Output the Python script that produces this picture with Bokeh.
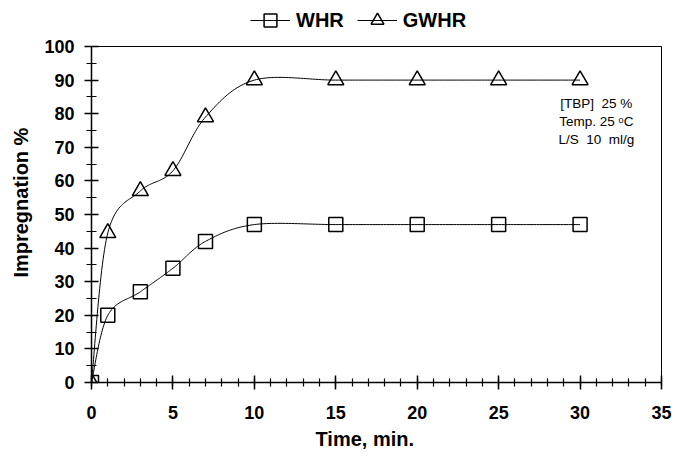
import numpy as np
from bokeh.plotting import figure
from bokeh.models import (Range1d, SingleIntervalTicker, Legend, LegendItem, Label, Title)
from bokeh.embed import file_html
from bokeh.resources import INLINE

# ---- data ----
time_min = [0, 1, 3, 5, 7, 10, 15, 20, 25, 30]
whr = [0, 20, 27, 34, 42, 47, 47, 47, 47, 47]
gwhr = [0, 44.5, 57, 63, 79, 90, 90, 90, 90, 90]
x_limits = [0, 35]
y_limits = [0, 100]
NB = "\u00a0"
notes = ["[TBP]" + NB + " 25 %", "Temp. 25 \u1d52C", "L/S" + NB + " 10" + NB + " ml/g"]


def smooth(xs, ys, n=30):
    """Excel-style smoothed line (Catmull-Rom Bezier) through the data points."""
    P = np.column_stack([xs, ys]).astype(float)
    m = len(P)
    out = [P[0]]
    t = np.linspace(0, 1, n)[1:, None]
    for i in range(m - 1):
        p0 = P[i - 1] if i > 0 else P[i]
        p1 = P[i]
        p2 = P[i + 1]
        p3 = P[i + 2] if i + 2 < m else P[i + 1]
        c1 = p1 + (p2 - p0) / 6.0
        c2 = p2 - (p3 - p1) / 6.0
        seg = ((1 - t) ** 3) * p1 + 3 * ((1 - t) ** 2) * t * c1 + 3 * (1 - t) * t ** 2 * c2 + t ** 3 * p2
        out.extend(seg)
    out = np.array(out)
    return out[:, 0], out[:, 1]


FONT = "Liberation Sans"

# axes box: x 0..35 -> 91..661 px ; y 0..100 -> 382..46 px ; extra frame room above for the legend
px_x = 570 / (x_limits[1] - x_limits[0])
px_y = 336 / (y_limits[1] - y_limits[0])
x_end = x_limits[1] + 2 / px_x
y_end = y_limits[1] + 46 / px_y

p = figure(width=675, height=458, output_backend="svg", toolbar_location=None,
           x_range=Range1d(x_limits[0], x_end), y_range=Range1d(y_limits[0], y_end),
           min_border_left=91, min_border_right=12, min_border_top=0, min_border_bottom=76)

p.xgrid.visible = False
p.ygrid.visible = False
p.outline_line_color = None
p.background_fill_color = "white"
p.border_fill_color = "white"

# axes
p.xaxis.ticker = SingleIntervalTicker(interval=5, num_minor_ticks=5)
p.yaxis.ticker = SingleIntervalTicker(interval=10, num_minor_ticks=2)
p.xaxis.bounds = tuple(x_limits)
p.yaxis.bounds = tuple(y_limits)
for ax in (p.xaxis[0], p.yaxis[0]):
    ax.axis_line_color = "black"
    ax.axis_line_width = 1.5
    ax.major_tick_line_color = "black"
    ax.major_tick_line_width = 1.5
    ax.minor_tick_line_color = "black"
    ax.minor_tick_line_width = 1.2
    ax.major_tick_in = 7
    ax.major_tick_out = 7
    ax.major_label_text_font = FONT
    ax.major_label_text_font_style = "bold"
    ax.major_label_text_font_size = "18px"
    ax.major_label_text_color = "black"
    ax.axis_label_text_font = FONT
    ax.axis_label_text_font_style = "bold"
    ax.axis_label_text_font_size = "20px"
    ax.axis_label_text_color = "black"
p.xaxis.minor_tick_in = 4
p.xaxis.minor_tick_out = 4
p.yaxis.minor_tick_in = 5
p.yaxis.minor_tick_out = 5
p.yaxis.axis_label = "Impregnation %" + NB * 4
p.xaxis.major_label_standoff = 16
p.yaxis.major_label_standoff = 10
p.yaxis.axis_label_standoff = 9

xtitle = Title(text="Time, min.", align="left", offset=224, standoff=9,
               text_font=FONT, text_font_style="bold", text_font_size="20px",
               text_color="black")
p.add_layout(xtitle, "below")

# top and right border of the plot box
p.segment(x0=[x_limits[0], x_limits[1]], y0=[y_limits[1], y_limits[0]],
          x1=[x_limits[1], x_limits[1]], y1=[y_limits[1], y_limits[1]],
          line_color="black", line_width=1)

# series
sx, sy = smooth(time_min, whr)
l1 = p.line(sx, sy, line_color="black", line_width=1)
m1 = p.scatter(time_min, whr, marker="square", size=14, line_color="black",
               line_width=1.5, fill_alpha=0)
gx, gy = smooth(time_min, gwhr)
l2 = p.line(gx, gy, line_color="black", line_width=1)
m2 = p.scatter(time_min, gwhr, marker="triangle", size=16, line_color="black",
               line_width=1.5, fill_alpha=0)

legend = Legend(items=[LegendItem(label="WHR", renderers=[l1, m1]),
                       LegendItem(label="GWHR", renderers=[l2, m2])],
                orientation="horizontal", location=(159, 346))
legend.label_text_font = FONT
legend.label_text_font_style = "bold"
legend.label_text_font_size = "20px"
legend.label_text_color = "black"
legend.glyph_width = 40
legend.glyph_height = 32
legend.label_height = 32
legend.label_standoff = 6
legend.spacing = 13
legend.padding = 0
legend.margin = 0
legend.border_line_alpha = 0
legend.background_fill_alpha = 0
p.add_layout(legend)

# condition notes
for i, t in enumerate(notes):
    p.add_layout(Label(x=31.0, y=83 - 5.36 * i, text=t, text_align="center",
                       text_baseline="middle", text_font=FONT,
                       text_font_size="13.5px", text_color="black"))

open("out.html", "w").write(file_html(p, INLINE))
